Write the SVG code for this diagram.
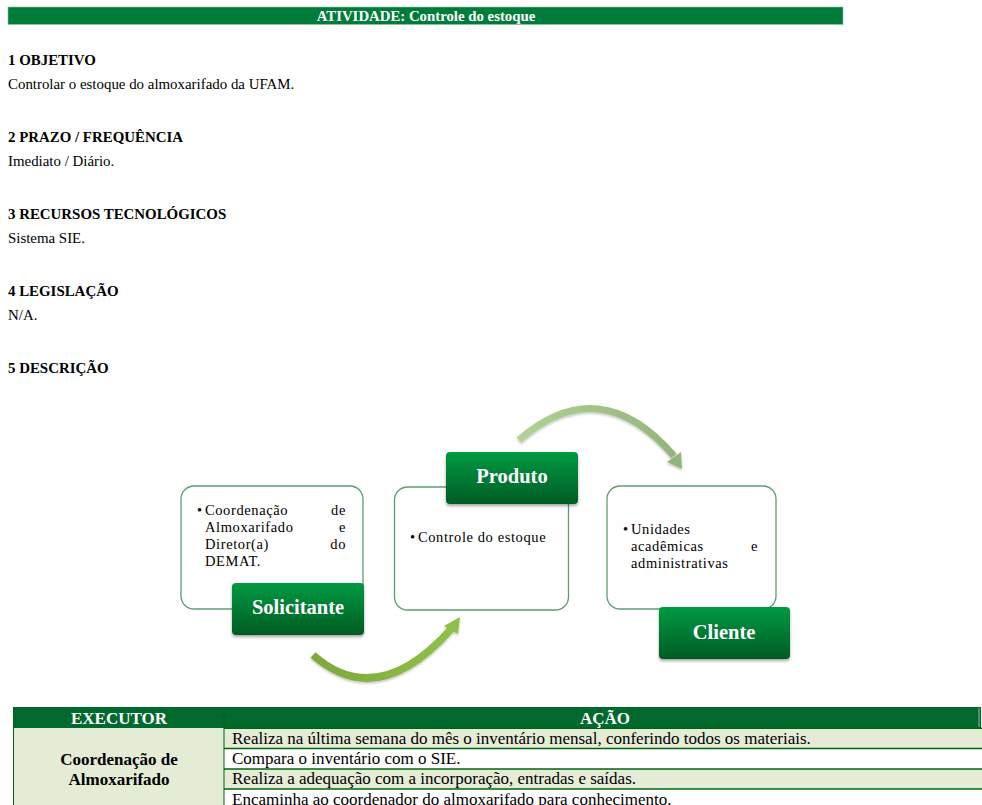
<svg xmlns="http://www.w3.org/2000/svg" width="982" height="805" viewBox="0 0 982 805">
<defs>
<style>
.t{font-family:"Liberation Serif","Times New Roman",serif;fill:#000}
.h{font-family:"Liberation Serif","Times New Roman",serif;font-weight:bold;font-size:14.9px;fill:#000}
.p{font-family:"Liberation Serif","Times New Roman",serif;font-size:14.9px;fill:#000}
.box{fill:#fefefe;stroke:#5f9c72;stroke-width:1.3}
.lab{fill:url(#lg);filter:url(#sh)}
.lt{font-family:"Liberation Serif","Times New Roman",serif;font-weight:bold;font-size:20.5px;fill:#fff;text-anchor:middle}
.bt{font-family:"Liberation Serif","Times New Roman",serif;font-size:14.5px;fill:#000;letter-spacing:0.6px}
.tb{font-family:"Liberation Serif","Times New Roman",serif;font-size:17px;fill:#000}
.tbb{font-family:"Liberation Serif","Times New Roman",serif;font-size:17px;font-weight:bold;fill:#000;text-anchor:middle}
.th{font-family:"Liberation Serif","Times New Roman",serif;font-size:17px;font-weight:bold;fill:#fff;text-anchor:middle}
.rl{stroke:#00640f;stroke-width:1.6}
</style>
<linearGradient id="lg" x1="0" y1="0" x2="0" y2="1">
<stop offset="0" stop-color="#009a42"/>
<stop offset="1" stop-color="#005c24"/>
</linearGradient>
<linearGradient id="ga" x1="0" y1="0" x2="1" y2="0">
<stop offset="0" stop-color="#b2d196"/>
<stop offset="1" stop-color="#93b47c"/>
</linearGradient>
<linearGradient id="gb" x1="0" y1="0" x2="1" y2="0">
<stop offset="0" stop-color="#7ea83a"/>
<stop offset="1" stop-color="#8fc04a"/>
</linearGradient>
<filter id="sh" x="-10%" y="-10%" width="120%" height="140%">
<feDropShadow dx="0" dy="2" stdDeviation="1.5" flood-color="#000" flood-opacity="0.35"/>
</filter>
<filter id="sh2" x="-10%" y="-10%" width="120%" height="140%">
<feDropShadow dx="0" dy="1.5" stdDeviation="1.2" flood-color="#000" flood-opacity="0.25"/>
</filter>
</defs>
<rect width="982" height="805" fill="#fff"/>

<g id="header">
<rect x="8" y="7" width="835" height="17.5" fill="#007c3a" stroke="#8cc4a0" stroke-width="0.6"/>
<text x="426" y="20.5" text-anchor="middle" font-family="Liberation Serif, Times New Roman, serif" font-weight="bold" font-size="14.8" fill="#fff">ATIVIDADE: Controle do estoque</text>
</g>

<g id="sections">
<text class="h" x="8" y="65">1 OBJETIVO</text>
<text class="p" x="8" y="89">Controlar o estoque do almoxarifado da UFAM.</text>
<text class="h" x="8" y="142">2 PRAZO / FREQUÊNCIA</text>
<text class="p" x="8" y="166">Imediato / Diário.</text>
<text class="h" x="8" y="219">3 RECURSOS TECNOLÓGICOS</text>
<text class="p" x="8" y="243">Sistema SIE.</text>
<text class="h" x="8" y="296">4 LEGISLAÇÃO</text>
<text class="p" x="8" y="320">N/A.</text>
<text class="h" x="8" y="373">5 DESCRIÇÃO</text>
</g>

<g id="connectors" filter="url(#sh2)">
<path d="M519,440 Q600,370 674,456" fill="none" stroke="url(#ga)" stroke-width="7"/>
<polygon points="682,469 667,462 681,452" fill="#93b47c"/>
<path d="M313,655 Q378,712 452,628" fill="none" stroke="url(#gb)" stroke-width="7.5"/>
<polygon points="460,617 444,626 458,634" fill="#8fc04a"/>
</g>

<g id="solicitante">
<rect class="box" x="181" y="486" width="182" height="123" rx="13"/>
<text class="bt" x="197" y="515">•</text>
<text class="bt" x="205" y="515">Coordenação</text>
<text class="bt" x="346" y="515" text-anchor="end">de</text>
<text class="bt" x="205" y="532">Almoxarifado</text>
<text class="bt" x="346" y="532" text-anchor="end">e</text>
<text class="bt" x="205" y="549">Diretor(a)</text>
<text class="bt" x="346" y="549" text-anchor="end">do</text>
<text class="bt" x="205" y="566">DEMAT.</text>
<rect class="lab" x="232" y="583" width="132" height="52" rx="4"/>
<text class="lt" x="298" y="614">Solicitante</text>
</g>

<g id="produto">
<rect class="box" x="394.5" y="487" width="174" height="123" rx="13"/>
<text class="bt" x="410" y="542">•</text>
<text class="bt" x="418" y="542">Controle do estoque</text>
<rect class="lab" x="446" y="452" width="132" height="52" rx="4"/>
<text class="lt" x="512" y="483">Produto</text>
</g>

<g id="cliente">
<rect class="box" x="607" y="486" width="169" height="123" rx="13"/>
<text class="bt" x="623" y="534">•</text>
<text class="bt" x="631" y="534">Unidades</text>
<text class="bt" x="631" y="551">acadêmicas</text>
<text class="bt" x="758" y="551" text-anchor="end">e</text>
<text class="bt" x="631" y="568">administrativas</text>
<rect class="lab" x="659" y="607" width="131" height="52" rx="4"/>
<text class="lt" x="724" y="639">Cliente</text>
</g>

<g id="table">
<rect x="13" y="707" width="968" height="21" fill="#006a2e"/>
<rect x="978" y="708" width="2" height="19" fill="#4f8f62"/>
<rect x="13" y="728" width="211" height="77" fill="#e4ecd6"/>
<rect x="224" y="728" width="758" height="20.5" fill="#e4ecd6"/>
<rect x="224" y="769" width="758" height="20" fill="#e4ecd6"/>
<line class="rl" x1="224" y1="728.3" x2="982" y2="728.3"/>
<line class="rl" x1="224" y1="748.5" x2="982" y2="748.5"/>
<line class="rl" x1="224" y1="769" x2="982" y2="769"/>
<line class="rl" x1="224" y1="789" x2="982" y2="789"/>
<line x1="224" y1="707" x2="224" y2="805" stroke="#00640f" stroke-width="1"/>
<line x1="13.5" y1="707" x2="13.5" y2="805" stroke="#00640f" stroke-width="1"/>
<text class="th" x="119" y="723.5">EXECUTOR</text>
<text class="th" x="605" y="723.5">AÇÃO</text>
<text class="tbb" x="119" y="765">Coordenação de</text>
<text class="tbb" x="119" y="785">Almoxarifado</text>
<text class="tb" x="232" y="743.5">Realiza na última semana do mês o inventário mensal, conferindo todos os materiais.</text>
<text class="tb" x="232" y="764">Compara o inventário com o SIE.</text>
<text class="tb" x="232" y="784">Realiza a adequação com a incorporação, entradas e saídas.</text>
<text class="tb" x="232" y="805">Encaminha ao coordenador do almoxarifado para conhecimento.</text>
</g>
</svg>
